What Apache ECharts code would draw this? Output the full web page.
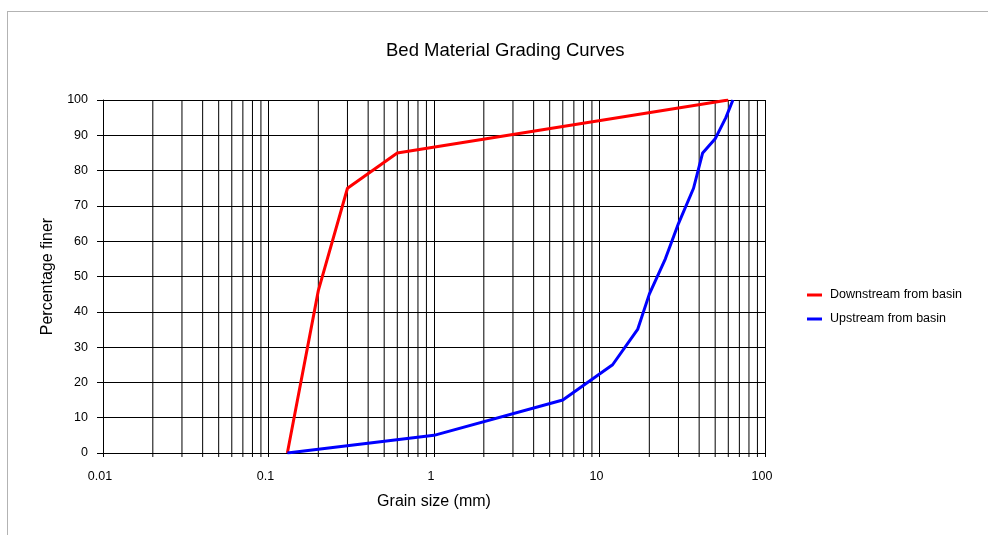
<!DOCTYPE html>
<html>
<head>
<meta charset="utf-8">
<script src="https://cdn.jsdelivr.net/npm/echarts@6/dist/echarts.min.js"></script>
<style>
  html, body { margin: 0; padding: 0; background: #fff; }
  #chart { width: 988px; height: 535px; }
</style>
</head>
<body>
<div id="chart"></div>
<script>
// Grain sizes (mm) and percentage finer
const downSize = [0.13, 0.2, 0.3, 0.6, 60];
const downPct = [0, 46, 75, 85, 100];
const upSize = [0.13, 1, 6, 12, 17, 20, 25, 30, 37, 42, 50, 58, 64];
const upPct = [0, 5, 15, 25, 35, 45, 55, 65, 75, 85, 89, 95, 100];

// Minor gridlines of the log axis (2..9 in each decade)
const minorTicks = [
  0.02, 0.03, 0.04, 0.05, 0.06, 0.07, 0.08, 0.09,
  0.2, 0.3, 0.4, 0.5, 0.6, 0.7, 0.8, 0.9,
  2, 3, 4, 5, 6, 7, 8, 9,
  20, 30, 40, 50, 60, 70, 80, 90
];
const seriesNames = ['Downstream from basin', 'Upstream from basin'];

const FONT = 'Liberation Sans, Arial, sans-serif';

const chart = echarts.init(document.getElementById('chart'), null, { renderer: 'canvas' });

const option = {
  backgroundColor: '#fff',
  animation: false,
  textStyle: { fontFamily: FONT, color: '#000' },
  title: {
    text: 'Bed Material Grading Curves',
    left: 386,
    top: 41,
    padding: 0,
    textStyle: { fontFamily: FONT, fontSize: 18.5, fontWeight: 'normal', color: '#000' }
  },
  legend: {
    data: seriesNames,
    orient: 'vertical',
    left: 807,
    top: 288,
    padding: 0,
    itemWidth: 15,
    itemHeight: 3,
    itemGap: 10,
    icon: 'rect',
    textStyle: { fontFamily: FONT, fontSize: 12.5, color: '#000', lineHeight: 14, padding: [0, 0, 0, 3] }
  },
  grid: { left: 103, right: 223, top: 100, bottom: 82 },
  xAxis: {
    type: 'log',
    logBase: 10,
    min: 0.01,
    max: 100,
    name: 'Grain size (mm)',
    nameLocation: 'middle',
    nameGap: 41,
    nameTextStyle: { fontFamily: FONT, fontSize: 16, color: '#000' },
    axisLine: { show: true, lineStyle: { color: '#000', width: 1 } },
    axisTick: { show: true, length: 4, lineStyle: { color: '#000' } },
    axisLabel: {
      fontFamily: FONT, fontSize: 12.5, color: '#000', margin: 17,
      padding: [0, 6, 0, 0],
      formatter: function (v) { return String(+(+v).toPrecision(6)); }
    },
    splitLine: { show: true, lineStyle: { color: '#000', width: 1 } }
  },
  yAxis: {
    type: 'value',
    min: 0,
    max: 100,
    interval: 10,
    name: 'Percentage finer',
    nameLocation: 'middle',
    nameGap: 47,
    nameTextStyle: { fontFamily: FONT, fontSize: 16, color: '#000' },
    axisLine: { show: true, lineStyle: { color: '#000', width: 1 } },
    axisTick: { show: true, length: 6, lineStyle: { color: '#000' } },
    axisLabel: { fontFamily: FONT, fontSize: 12.5, color: '#000', margin: 15, padding: [6, 0, 0, 0] },
    splitLine: { show: true, lineStyle: { color: '#000', width: 1 } }
  },
  graphic: [{
    type: 'rect',
    shape: { x: 7.5, y: 11.5, width: 1000, height: 540 },
    style: { fill: 'none', stroke: '#666', lineWidth: 1, lineDash: [1, 1] },
    silent: true
  }],
  series: [
    {
      name: 'minor',
      type: 'custom',
      silent: true,
      z: 1,
      data: minorTicks.map(v => [v, 0]),
      encode: { x: 0, y: 1 },
      renderItem: function (params, api) {
        const x = api.value(0);
        const top = api.coord([x, 100]);
        const bot = api.coord([x, 0]);
        return {
          type: 'line',
          shape: { x1: top[0], y1: top[1], x2: bot[0], y2: bot[1] + 4 },
          style: { stroke: '#000', lineWidth: 1 }
        };
      }
    },
    {
      name: seriesNames[0],
      type: 'line',
      z: 3,
      data: downSize.map((s, i) => [s, downPct[i]]),
      showSymbol: false,
      symbol: 'none',
      color: '#ff0000',
      lineStyle: { color: '#ff0000', width: 3 }
    },
    {
      name: seriesNames[1],
      type: 'line',
      z: 4,
      data: upSize.map((s, i) => [s, upPct[i]]),
      showSymbol: false,
      symbol: 'none',
      color: '#0000ff',
      lineStyle: { color: '#0000ff', width: 3 }
    }
  ]
};

chart.setOption(option);
</script>
</body>
</html>
